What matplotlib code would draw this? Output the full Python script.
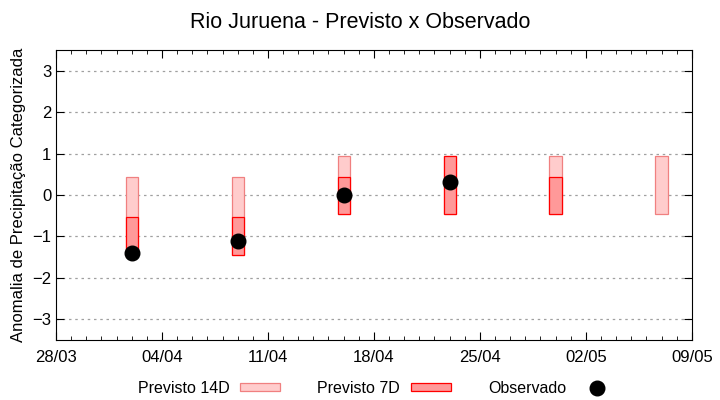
import matplotlib
matplotlib.use('Agg')
import matplotlib.pyplot as plt
import matplotlib.dates as mdates
from matplotlib.patches import Patch
from matplotlib.lines import Line2D
from datetime import datetime, timedelta
import numpy as np

plt.rcParams['font.family'] = ['Liberation Sans', 'DejaVu Sans']

# Data
datas = ['2025-04-02', '2025-04-09', '2025-04-16', '2025-04-23', '2025-04-30', '2025-05-07']
p14_baixo = [-1.45, -1.45, -0.45, -0.45, -0.45, -0.45]
p14_cima = [0.43, 0.43, 0.94, 0.94, 0.94, 0.94]
p7_baixo = [-1.45, -1.45, -0.45, -0.45, -0.45, None]
p7_cima = [-0.52, -0.52, 0.43, 0.94, 0.43, None]
obs_datas = ['2025-04-02', '2025-04-09', '2025-04-16', '2025-04-23']
obs_valores = [-1.41, -1.11, 0.0, 0.31]

x = [datetime.strptime(d, '%Y-%m-%d') for d in datas]
xo = [datetime.strptime(d, '%Y-%m-%d') for d in obs_datas]

fig = plt.figure(figsize=(7.2, 4), dpi=100)
ax = fig.add_axes([0.0778, 0.15, 0.883, 0.725])

largura = 0.8  # days

# Previsto 14D
for xi, b, c in zip(x, p14_baixo, p14_cima):
    ax.bar(xi, c - b, bottom=b, width=largura, color='#ffcccc', edgecolor='#f08080', linewidth=0.9, zorder=3)

# Previsto 7D
for xi, b, c in zip(x, p7_baixo, p7_cima):
    if b is None:
        continue
    ax.bar(xi, c - b, bottom=b, width=largura, color='#ff9999', edgecolor='#ff0000', linewidth=0.9, zorder=4)

# Observado
ax.plot(xo, obs_valores, 'o', color='black', markersize=10.5, zorder=5)

ax.set_xlim(datetime(2025, 3, 28), datetime(2025, 5, 9))
ax.set_ylim(-3.5, 3.5)
ax.set_yticks(np.arange(-3, 4, 1))
ax.set_xticks([datetime(2025, 3, 28) + timedelta(days=7 * i) for i in range(7)])
ax.xaxis.set_major_formatter(mdates.DateFormatter('%d/%m'))
ax.xaxis.set_minor_locator(mdates.DayLocator())

ax.tick_params(axis='both', which='both', direction='in', top=True, right=True, labelsize=12)
ax.tick_params(axis='both', which='major', length=6)
ax.tick_params(axis='both', which='minor', length=3)
ax.tick_params(axis='x', pad=7)
ax.grid(axis='y', color='#a0a0a0', linestyle=(0, (2, 3)), linewidth=0.9, zorder=0)

ax.set_ylabel('Anomalia de Precipitação Categorizada', fontsize=12)
fig.suptitle('Rio Juruena - Previsto x Observado', fontsize=15.5, y=0.97)

handles = [
    Patch(facecolor='#ffcccc', edgecolor='#f08080', linewidth=0.9),
    Patch(facecolor='#ff9999', edgecolor='#ff0000', linewidth=0.9),
    Line2D([], [], marker='o', color='black', linestyle='none', markersize=10.5),
]
labels = ['Previsto 14D', 'Previsto 7D', 'Observado']
fig.legend(handles, labels, loc='lower center', bbox_to_anchor=(0.524, -0.025), ncol=3,
           frameon=False, markerfirst=False, fontsize=11.5, handlelength=2.5,
           handleheight=0.4, columnspacing=2.3, handletextpad=0.7)

plt.savefig('out.png', dpi=100)
